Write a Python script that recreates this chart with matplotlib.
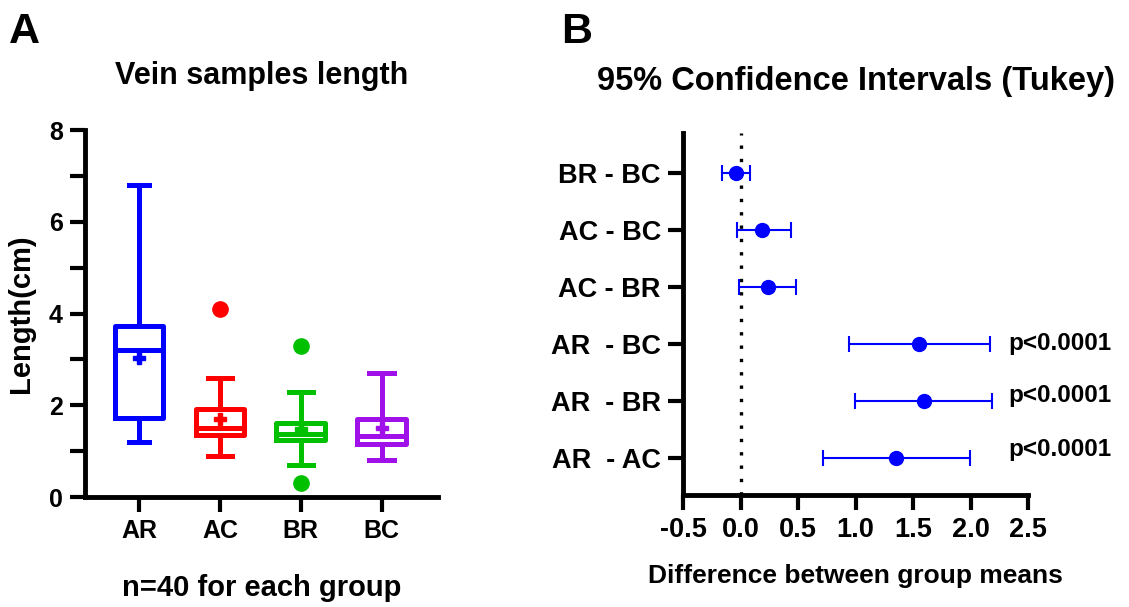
import matplotlib.pyplot as plt

plt.rcParams["font.family"] = ["Liberation Sans", "DejaVu Sans"]
plt.rcParams["font.weight"] = "bold"
plt.rcParams["axes.titleweight"] = "bold"
plt.rcParams["axes.labelweight"] = "bold"

# 패널 A: 상자그림 요약값
groups = ["AR", "AC", "BR", "BC"]
colors = ["#0000FF", "#FF0000", "#00C000", "#A010E8"]
q1 = [1.72, 1.36, 1.24, 1.16]
medians = [3.2, 1.51, 1.38, 1.32]
q3 = [3.73, 1.92, 1.61, 1.70]
whis_lo = [1.2, 0.9, 0.7, 0.8]
whis_hi = [6.8, 2.6, 2.3, 2.7]
means = [3.03, 1.70, 1.48, 1.50]
outliers = [[], [4.1], [3.3, 0.3], []]

# 패널 B: Tukey 95% 신뢰구간
comparisons = ["AR  - AC", "AR  - BR", "AR  - BC", "AC - BR", "AC - BC", "BR - BC"]
diff_mean = [1.355, 1.597, 1.555, 0.24, 0.19, -0.04]
ci_low = [0.716, 0.997, 0.945, -0.01, -0.035, -0.16]
ci_high = [1.997, 2.19, 2.17, 0.48, 0.435, 0.08]
p_labels = ["p<0.0001", "p<0.0001", "p<0.0001", "", "", ""]

fig = plt.figure(figsize=(11.29, 6.07), dpi=100)

# ---------------- 패널 A ----------------
ax1 = fig.add_axes([0.0753, 0.1812, 0.3127, 0.6046])
for i, g in enumerate(groups):
    stats = [{
        "med": medians[i], "q1": q1[i], "q3": q3[i],
        "whislo": whis_lo[i], "whishi": whis_hi[i],
        "mean": means[i], "fliers": outliers[i], "label": g,
    }]
    c = colors[i]
    ax1.bxp(
        stats, positions=[i], widths=0.6, capwidths=0.3 if i else 0.24,
        showmeans=True, manage_ticks=False,
        boxprops=dict(color=c, linewidth=3.6),
        medianprops=dict(color=c, linewidth=3.6),
        whiskerprops=dict(color=c, linewidth=3.6),
        capprops=dict(color=c, linewidth=3.6),
        meanprops=dict(marker="P", markerfacecolor=c, markeredgecolor=c, markersize=8),
        flierprops=dict(marker="o", markerfacecolor=c, markeredgecolor=c, markersize=11),
    )

ax1.set_xlim(-0.67, 3.7)
ax1.set_ylim(0, 8)
ax1.set_xticks(range(len(groups)))
ax1.set_xticklabels(groups)
ax1.set_yticks([0, 2, 4, 6, 8])
ax1.set_yticks([1, 3, 5, 7], minor=True)
ax1.set_ylabel("Length(cm)", fontsize=21, labelpad=10)
ax1.set_title("Vein samples length", fontsize=22, pad=33)
ax1.set_xlabel("n=40 for each group", fontsize=21, labelpad=22)

# ---------------- 패널 B ----------------
ax2 = fig.add_axes([0.605, 0.1845, 0.3056, 0.5964])
ypos = list(range(len(comparisons)))
xerr = [[m - lo for m, lo in zip(diff_mean, ci_low)],
        [hi - m for m, hi in zip(diff_mean, ci_high)]]
ax2.axvline(0, color="black", linestyle=(0, (1, 3)), linewidth=2.4)
ax2.errorbar(diff_mean, ypos, xerr=xerr, fmt="o", color="#0000FF",
             markersize=10, elinewidth=1.5, capsize=5.5, capthick=1.5, zorder=3)
p_offsets = [0.14, 0.09, 0.0, 0, 0, 0]
for y, p, off in zip(ypos, p_labels, p_offsets):
    if p:
        ax2.text(2.33, y + off, p, fontsize=17.5, va="center", ha="left")

ax2.set_xlim(-0.5, 2.5)
ax2.set_ylim(-0.65, 5.7)
ax2.set_xticks([-0.5, 0, 0.5, 1.0, 1.5, 2.0, 2.5])
ax2.set_xticklabels(["-0.5", "0.0", "0.5", "1.0", "1.5", "2.0", "2.5"])
ax2.set_yticks(ypos)
ax2.set_yticklabels(comparisons)
ax2.set_xlabel("Difference between group means", fontsize=19, labelpad=15)
ax2.set_title("95% Confidence Intervals (Tukey)", fontsize=23.5, pad=31)

# 공통 축 스타일 (GraphPad 스타일)
for ax, lsize in ((ax1, 18), (ax2, 19.5)):
    ax.spines["top"].set_visible(False)
    ax.spines["right"].set_visible(False)
    ax.spines["left"].set_linewidth(3.5)
    ax.spines["bottom"].set_linewidth(3.5)
    ax.tick_params(axis="both", which="both", direction="out", length=11,
                   width=3, labelsize=lsize, pad=5)

# 패널 라벨
fig.text(0.008, 0.948, "A", fontsize=31, va="center", ha="left")
fig.text(0.497, 0.948, "B", fontsize=31, va="center", ha="left")

plt.savefig("out.png", dpi=100)
